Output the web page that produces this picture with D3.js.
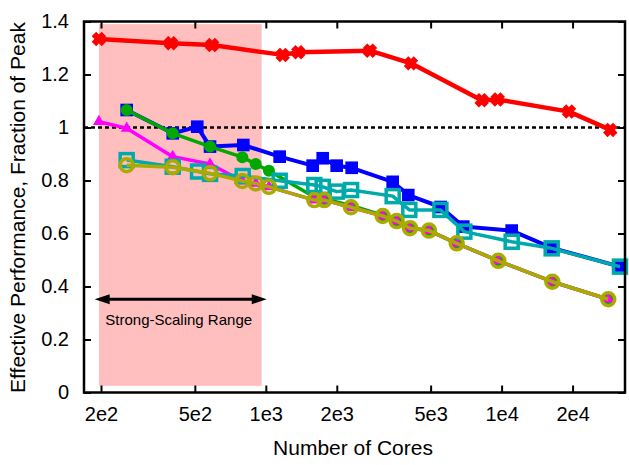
<html>
<head>
<meta charset="utf-8">
<script src="https://d3js.org/d3.v7.min.js"></script>
<style>
body { margin: 0; background: white; }
text { font-family: "Liberation Sans", Arial, Helvetica, sans-serif; }
</style>
</head>
<body>
<div id="chart"></div>
<script>
// tick labels
var xTicks = [200, 500, 1000, 2000, 5000, 10000, 20000];
var xTickLabels = ["2e2", "5e2", "1e3", "2e3", "5e3", "1e4", "2e4"];
var yTicks = [0, 0.2, 0.4, 0.6, 0.8, 1, 1.2, 1.4];
var yTickLabels = ["0", "0.2", "0.4", "0.6", "0.8", "1", "1.2", "1.4"];

// series
var redCores  = [196, 396, 592, 1179, 1373, 2766, 4128, 8232, 9625, 19310, 28900];
var redPerf   = [1.334, 1.318, 1.311, 1.274, 1.284, 1.290, 1.242, 1.103, 1.106, 1.060, 0.991];

var blueCores = [257, 403, 512, 580, 803, 1145, 1580, 1743, 1998, 2313, 3452, 4020, 5515, 6879, 11035, 16310, 31770];
var bluePerf  = [1.066, 0.978, 1.003, 0.928, 0.934, 0.890, 0.856, 0.884, 0.856, 0.848, 0.795, 0.745, 0.700, 0.626, 0.611, 0.546, 0.475];

var greenCores = [257, 403, 580, 795, 906, 1031, 1606, 1770, 2297, 3131, 3589, 4088, 4920, 6450, 9683, 16410, 28340];
var greenPerf  = [1.066, 0.978, 0.928, 0.888, 0.862, 0.837, 0.738, 0.730, 0.706, 0.669, 0.647, 0.620, 0.611, 0.563, 0.497, 0.418, 0.352];

var magentaCores = [196, 257, 403, 580, 795, 906, 1031, 1606, 1770, 2297, 3131, 3589, 4088, 4920, 6450, 9683, 16410, 28340];
var magentaPerf  = [1.022, 0.997, 0.890, 0.862, 0.798, 0.789, 0.776, 0.726, 0.726, 0.699, 0.666, 0.647, 0.620, 0.611, 0.563, 0.497, 0.418, 0.352];

var cyanCores = [257, 403, 516, 580, 798, 1145, 1606, 1743, 1998, 2300, 3452, 4060, 5500, 6950, 11035, 16310, 31770];
var cyanPerf  = [0.877, 0.852, 0.834, 0.825, 0.817, 0.799, 0.783, 0.776, 0.758, 0.764, 0.741, 0.689, 0.689, 0.607, 0.569, 0.544, 0.475];

var yellowCores = [257, 403, 580, 795, 906, 1031, 1606, 1770, 2297, 3131, 3589, 4088, 4920, 6450, 9683, 16410, 28340];
var yellowPerf  = [0.858, 0.850, 0.827, 0.798, 0.789, 0.776, 0.726, 0.726, 0.699, 0.666, 0.647, 0.620, 0.611, 0.563, 0.497, 0.418, 0.352];

// annotation: strong-scaling band and arrow (data units)
var rangeCores = [196, 960];
var rangePerf = [0.025, 1.39];
var arrowCores = [188, 1009];
var arrowPerf = 0.352;
var peakLine = 1;

var margin = {top: 21.5, right: 4, bottom: 72.5, left: 84},
    width = 629 - margin.left - margin.right,
    height = 465 - margin.top - margin.bottom;

var svg = d3.select("#chart")
  .append("svg")
    .attr("width", 629)
    .attr("height", 465)
  .append("g")
    .attr("transform", "translate(" + margin.left + "," + margin.top + ")");

var x = d3.scaleLog()
  .domain([169.4, 33370])
  .range([0, width]);

var y = d3.scaleLinear()
  .domain([0, 1.4])
  .range([height, 0]);

// pink band
svg.append("rect")
  .attr("x", x(rangeCores[0]))
  .attr("y", y(rangePerf[1]))
  .attr("width", x(rangeCores[1]) - x(rangeCores[0]))
  .attr("height", y(rangePerf[0]) - y(rangePerf[1]))
  .style("fill", "#ffbfbf");

// dotted line at 1
svg.append("line")
  .attr("x1", 0).attr("x2", width)
  .attr("y1", y(peakLine)).attr("y2", y(peakLine))
  .attr("stroke", "black")
  .attr("stroke-width", 2.5)
  .attr("stroke-dasharray", "4,3");

// axes
var xAxis = svg.append("g")
  .attr("transform", "translate(0," + height + ")")
  .call(d3.axisBottom(x).tickValues(xTicks)
    .tickFormat(function(d, i) { return xTickLabels[i]; })
    .tickSizeInner(-7).tickSizeOuter(0).tickPadding(14));

var yAxis = svg.append("g")
  .call(d3.axisLeft(y).tickValues(yTicks)
    .tickFormat(function(d, i) { return yTickLabels[i]; })
    .tickSizeInner(-7).tickSizeOuter(0).tickPadding(15));

var xTop = svg.append("g")
  .call(d3.axisTop(x).tickValues(xTicks).tickFormat("")
    .tickSizeInner(-7).tickSizeOuter(0));

var yRight = svg.append("g")
  .attr("transform", "translate(" + width + ",0)")
  .call(d3.axisRight(y).tickValues(yTicks).tickFormat("")
    .tickSizeInner(-7).tickSizeOuter(0));

svg.selectAll(".domain").remove();
svg.selectAll(".tick line").attr("stroke", "black").attr("stroke-width", 2);
svg.selectAll(".tick text")
  .style("font-size", "20px")
  .style("font-family", "Liberation Sans, Arial, sans-serif")
  .attr("fill", "black");

// series
var series = [
  {cores: redCores, perf: redPerf, color: "#ff0000", width: 4.5, mark: "x"},
  {cores: blueCores, perf: bluePerf, color: "#0000ff", width: 4, mark: "square"},
  {cores: greenCores, perf: greenPerf, color: "#00a800", width: 3.5, mark: "dot"},
  {cores: magentaCores, perf: magentaPerf, color: "#ff00ff", width: 3.5, mark: "triangle"},
  {cores: cyanCores, perf: cyanPerf, color: "#00aaaa", width: 3.5, mark: "osquare"},
  {cores: yellowCores, perf: yellowPerf, color: "#aaaa00", width: 3.5, mark: "ocircle"}
];

var line = d3.line()
  .x(function(d) { return x(d[0]); })
  .y(function(d) { return y(d[1]); });

series.forEach(function(s) {
  var pts = s.cores.map(function(c, i) { return [c, s.perf[i]]; });
  var g = svg.append("g");

  g.append("path")
    .datum(pts)
    .attr("d", line)
    .attr("fill", "none")
    .attr("stroke", s.color)
    .attr("stroke-width", s.width)
    .attr("stroke-linejoin", "round");

  var m = g.selectAll("marks")
    .data(pts)
    .enter();

  if (s.mark == "x") {
    m.append("path")
      .attr("d", d3.symbol(d3.symbolCross, 75))
      .attr("transform", function(d) { return "translate(" + x(d[0]) + "," + y(d[1]) + ") rotate(45)"; })
      .attr("fill", s.color)
      .attr("stroke", s.color)
      .attr("stroke-width", 2.5);
  } else if (s.mark == "square") {
    m.append("path")
      .attr("d", d3.symbol(d3.symbolSquare, 160))
      .attr("transform", function(d) { return "translate(" + x(d[0]) + "," + y(d[1]) + ")"; })
      .attr("fill", s.color);
  } else if (s.mark == "dot") {
    m.append("circle")
      .attr("cx", function(d) { return x(d[0]); })
      .attr("cy", function(d) { return y(d[1]); })
      .attr("r", 6)
      .attr("fill", s.color);
  } else if (s.mark == "triangle") {
    m.append("path")
      .attr("d", d3.symbol(d3.symbolTriangle, 60))
      .attr("transform", function(d) { return "translate(" + x(d[0]) + "," + y(d[1]) + ")"; })
      .attr("fill", s.color);
  } else if (s.mark == "osquare") {
    m.append("rect")
      .attr("x", function(d) { return x(d[0]) - 6.5; })
      .attr("y", function(d) { return y(d[1]) - 6.5; })
      .attr("width", 13).attr("height", 13)
      .attr("fill", "none")
      .attr("stroke", s.color)
      .attr("stroke-width", 3.5);
  } else if (s.mark == "ocircle") {
    m.append("circle")
      .attr("cx", function(d) { return x(d[0]); })
      .attr("cy", function(d) { return y(d[1]); })
      .attr("r", 6.5)
      .attr("fill", "none")
      .attr("stroke", s.color)
      .attr("stroke-width", 3.5);
  }
});

// double arrow
var ay = y(arrowPerf), ax1 = x(arrowCores[0]), ax2 = x(arrowCores[1]);
svg.append("line")
  .attr("x1", ax1 + 8).attr("x2", ax2 - 8)
  .attr("y1", ay).attr("y2", ay)
  .attr("stroke", "black")
  .attr("stroke-width", 3);
svg.append("path")
  .attr("d", "M" + ax1 + "," + ay + " L" + (ax1 + 15) + "," + (ay - 5) + " L" + (ax1 + 15) + "," + (ay + 5) + " Z")
  .attr("fill", "black");
svg.append("path")
  .attr("d", "M" + ax2 + "," + ay + " L" + (ax2 - 15) + "," + (ay - 5) + " L" + (ax2 - 15) + "," + (ay + 5) + " Z")
  .attr("fill", "black");

svg.append("text")
  .attr("x", (ax1 + ax2) / 2 - 2)
  .attr("y", ay + 26)
  .attr("text-anchor", "middle")
  .style("font-size", "15px")
  .text("Strong-Scaling Range");

// frame
svg.append("rect")
  .attr("x", 0).attr("y", 0)
  .attr("width", width).attr("height", height)
  .attr("fill", "none")
  .attr("stroke", "black")
  .attr("stroke-width", 2.5);

// axis titles
svg.append("text")
  .attr("x", 353 - margin.left)
  .attr("y", 455 - margin.top)
  .attr("text-anchor", "middle")
  .style("font-size", "21px")
  .text("Number of Cores");

svg.append("text")
  .attr("transform", "rotate(-90)")
  .attr("x", -(207.5 - margin.top))
  .attr("y", 25 - margin.left)
  .attr("text-anchor", "middle")
  .style("font-size", "21px")
  .text("Effective Performance, Fraction of Peak");
</script>
</body>
</html>
